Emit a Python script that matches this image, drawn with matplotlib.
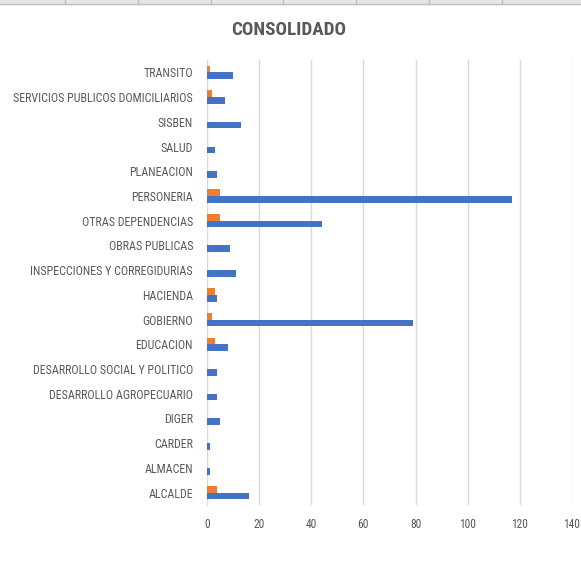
"""Consolidado: horizontal clustered bars per dependencia."""

from matplotlib import pyplot as plt
from matplotlib.lines import Line2D
from matplotlib.patches import Rectangle
import numpy as np

# * -------------------------------------------------------------------------------- * #
# * DATA

dependencias = [
    "ALCALDE",
    "ALMACEN",
    "CARDER",
    "DIGER",
    "DESARROLLO AGROPECUARIO",
    "DESARROLLO SOCIAL Y POLITICO",
    "EDUCACION",
    "GOBIERNO",
    "HACIENDA",
    "INSPECCIONES Y CORREGIDURIAS",
    "OBRAS PUBLICAS",
    "OTRAS DEPENDENCIAS",
    "PERSONERIA",
    "PLANEACION",
    "SALUD",
    "SISBEN",
    "SERVICIOS PUBLICOS DOMICILIARIOS",
    "TRANSITO",
]
serie_azul = [16, 1, 1, 5, 4, 4, 8, 79, 4, 11, 9, 44, 117, 4, 3, 13, 7, 10]
serie_naranja = [4, 0, 0, 0, 0, 0, 3, 2, 3, 0, 0, 5, 5, 0, 0, 0, 2, 1]
x_ticks = [0, 20, 40, 60, 80, 100, 120, 140]

# * -------------------------------------------------------------------------------- * #
# * PLOT

text_color = "#595959"
grid_color = "#d9d9d9"
font = ["Roboto Condensed", "DejaVu Sans Condensed", "Liberation Sans Narrow", "Liberation Sans"]


def fit_width(text, target_px, renderer):
    """Scale a text's font size so that its rendered width matches the target."""
    width = text.get_window_extent(renderer).width
    text.set_fontsize(text.get_fontsize() * target_px / width)


fig = plt.figure(figsize=(5.81, 5.74), dpi=100)
ax = fig.add_axes([207 / 581, 69 / 574, 365 / 581, 445 / 574])

y = np.arange(len(dependencias))
height = 0.27
ax.barh(y - height / 2, serie_azul, height=height, color="#4472c4", zorder=3)
ax.barh(y + height / 2, serie_naranja, height=height, color="#ed7d31", zorder=3)

ax.set_xlim(0, 140)
ax.set_ylim(-0.5, len(dependencias) - 0.5)
ax.set_xticks(x_ticks)
ax.set_xticklabels([str(t) for t in x_ticks], family=font, fontsize=9.5, color=text_color)
ax.set_yticks(y)
ax.set_yticklabels(dependencias, family=font, fontsize=9.5, color=text_color)
ax.tick_params(length=0)
ax.tick_params(axis="x", pad=9)
ax.tick_params(axis="y", pad=10)
ax.grid(axis="x", color=grid_color, linewidth=1, zorder=0)
for side in ["top", "right", "bottom"]:
    ax.spines[side].set_visible(False)
ax.spines["left"].set_color(grid_color)

title = fig.text(
    289 / 581,
    1 - 30 / 574,
    "CONSOLIDADO",
    ha="center",
    va="center",
    fontsize=13,
    fontweight="bold",
    color=text_color,
    family=font,
)

# Match the narrow Excel font by width
renderer = fig.canvas.get_renderer()
ylabels = ax.get_yticklabels()
fit_width(ylabels[dependencias.index("SERVICIOS PUBLICOS DOMICILIARIOS")], 181, renderer)
ysize = ylabels[dependencias.index("SERVICIOS PUBLICOS DOMICILIARIOS")].get_fontsize()
ax.set_yticklabels(dependencias, family=font, fontsize=ysize, color=text_color)
xlabels = ax.get_xticklabels()
fit_width(xlabels[x_ticks.index(100)], 17, renderer)
xsize = xlabels[x_ticks.index(100)].get_fontsize()
ax.set_xticklabels([str(t) for t in x_ticks], family=font, fontsize=xsize, color=text_color)
fit_width(title, 115, renderer)

# Excel sheet strip at the top
fig.add_artist(
    Rectangle((0, 1 - 4 / 574), 1, 4 / 574, transform=fig.transFigure, color="#e6e6e6")
)
fig.add_artist(
    Line2D([0, 1], [1 - 4 / 574] * 2, transform=fig.transFigure, color="#bfbfbf", lw=1)
)
for x_sep in [65, 138, 211, 283, 356, 429, 502]:
    fig.add_artist(
        Line2D([x_sep / 581] * 2, [1 - 4 / 574, 1], transform=fig.transFigure, color="#bfbfbf", lw=1)
    )

fig.savefig("out.png", dpi=100)
